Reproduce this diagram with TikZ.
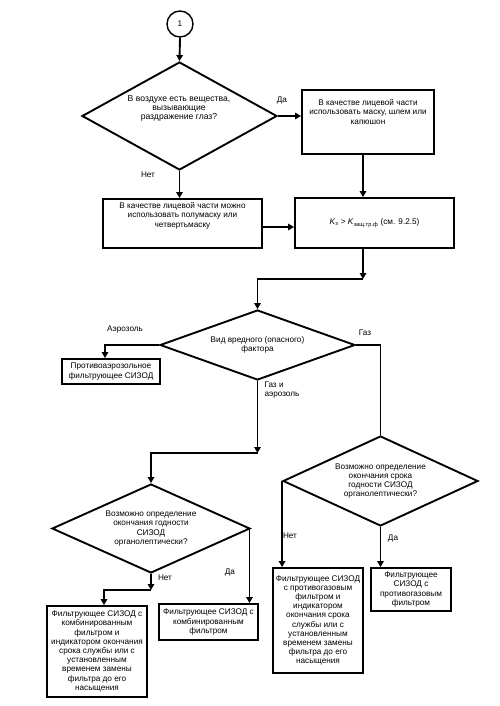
\documentclass[tikz,border=0pt]{standalone}
\usepackage{fontspec}
\setmainfont{Liberation Sans}
\usetikzlibrary{shapes.geometric,arrows.meta,positioning}

\begin{document}
\begin{tikzpicture}[x=1pt, y=-1pt,
    every node/.style={font=\fontsize{8.2}{9.2}\selectfont, align=center},
    box/.style={draw, line width=1.9pt, inner sep=0pt},
    query/.style={diamond, draw, line width=1.9pt, inner sep=0pt},
    arr/.style={-{Triangle[length=6pt,width=6.5pt]}, line width=1.9pt},
    line/.style={line width=1.9pt}]
            \useasboundingbox (0,0) rectangle (500,706);

            % Nodes
            \node[circle, draw, line width=1.4pt, minimum size=26, inner sep=0pt] (start) at (180,24) {1};
            \node[query, aspect=1.8, minimum width=195, minimum height=108] (q1) at (179.5,116) {};
            \node[font=\fontsize{8.6}{9}\selectfont] (q1text) at (179,108) {В воздухе есть вещества,\\вызывающие\\раздражение глаз?};
            \node[box, minimum width=132, minimum height=64] (mask) at (368,122) {};
            \node[below=7pt of mask.north] (masktext) {В качестве лицевой части\\использовать маску, шлем или\\капюшон};
            \node[box, minimum width=159, minimum height=49] (half) at (182.5,223.5) {};
            \node[below=1pt of half.north] (halftext) {В качестве лицевой части можно\\использовать полумаску или\\четвертьмаску};
            \node[box, minimum width=159, minimum height=50] (kbox) at (374.5,223) {\textit{K}\textsubscript{з} > \textit{K}\textsubscript{защ.тр.ф} (см. 9.2.5)};

            \node[query, aspect=2.8, minimum width=195, minimum height=70] (q2) at (257.5,345) {Вид вредного (опасного)\\фактора};
            \node[box, minimum width=98, minimum height=25] (aero) at (111,371.5) {Противоаэрозольное\\фильтрующее СИЗОД};

            \node[query, aspect=2.2, minimum width=198, minimum height=89] (q3) at (151,528.5) {Возможно определение\\окончания годности\\СИЗОД\\органолептически?};
            \node[query, aspect=2.2, minimum width=195, minimum height=90] (q4) at (380.5,481) {Возможно определение\\окончания срока\\годности СИЗОД\\органолептически?};

            \node[box, minimum width=100, minimum height=91] (combind) at (97,651.5) {Фильтрующее СИЗОД с\\комбинированным\\фильтром и\\индикатором окончания\\срока службы или с\\установленным\\временем замены\\фильтра до его\\насыщения};
            \node[box, minimum width=99, minimum height=36] (comb) at (208.5,622) {Фильтрующее СИЗОД с\\комбинированным\\фильтром};
            \node[box, minimum width=90, minimum height=105] (gasind) at (318,620.5) {Фильтрующее СИЗОД\\с противогазовым\\фильтром и\\индикатором\\окончания срока\\службы или с\\установленным\\временем замены\\фильтра до его\\насыщения};
            \node[box, minimum width=80, minimum height=43] (gas) at (411,589.5) {Фильтрующее\\СИЗОД с\\противогазовым\\фильтром};

            \coordinate (j1) at (363,279);
            \coordinate (j2) at (257.5,453);
            \coordinate (j3) at (151,590);

            % Additional labels
            \node (yes1) at (282,100) {Да};
            \node (no1) at (148,175) {Нет};
            \node (aerolabel) at (125,330) {Аэрозоль};
            \node (gaslabel) at (365,333) {Газ};
            \node[anchor=west, align=left] (mixlabel) at (261,390) {Газ и\\аэрозоль};
            \node (no3) at (165,578) {Нет};
            \node (yes3) at (230,572) {Да};
            \node (no4) at (290,536) {Нет};
            \node (yes4) at (393,538) {Да};

            % Edges
            \draw[arr] (start.south) -- (q1.north);
            \draw[arr] (q1.east) -- (q1.east -| mask.west);
            \draw[arr] (q1.south) -- (q1.south |- half.north);
            \draw[arr] ([xshift=-5pt]mask.south) -- ([xshift=-5pt]mask.south |- kbox.north);
            \draw[arr] ([yshift=-3.5pt]half.east) -- ([yshift=-3.5pt]half.east -| kbox.west);
            \draw[arr] (kbox.south -| j1) -- (j1);
            \draw[arr] (j1) -| (q2.north);
            \draw[arr] (q2.west) -| ([xshift=-6pt]aero.north);
            \draw[line] (q2.east) -| (q4.north);
            \draw[arr] (q2.south) -- (j2);
            \draw[arr] (j2) -| (q3.north);
            \draw[arr] (q3.south) -- (j3);
            \draw[arr] (j3) -| ([xshift=7pt]combind.north);
            \draw[arr] ([xshift=-1.5pt]q3.east) -- ([xshift=-1.5pt]q3.east |- comb.north);
            \draw[arr] (q4.west) -- (q4.west |- gasind.north);
            \draw[arr] (q4.south) -- (q4.south |- gas.north);
        \end{tikzpicture}
\end{document}
